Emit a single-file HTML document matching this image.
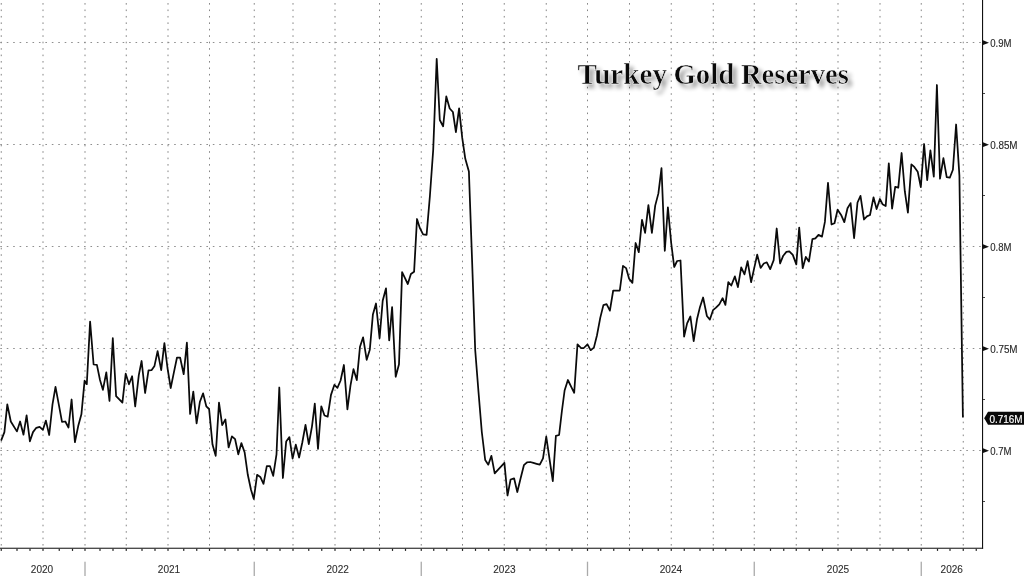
<!DOCTYPE html>
<html><head><meta charset="utf-8"><title>Turkey Gold Reserves</title>
<style>
html,body{margin:0;padding:0;background:#fff;}
body{width:1024px;height:576px;overflow:hidden;font-family:"Liberation Sans",sans-serif;}
svg{display:block;position:absolute;left:0;top:0;}
text{font-family:"Liberation Sans",sans-serif;}
.t{font-family:"Liberation Serif",serif;font-weight:bold;font-size:30.3px;}
</style></head><body>
<svg width="1024" height="576" viewBox="0 0 1024 576">
<defs><filter id="bl" x="-10%" y="-50%" width="120%" height="200%"><feGaussianBlur stdDeviation="2.2"/></filter></defs>
<rect x="0" y="0" width="1024" height="576" fill="#ffffff"/>

<g stroke="#858585" stroke-width="1" stroke-dasharray="1.6 4.84" fill="none">
<line x1="1.25" y1="3.06" x2="1.25" y2="547.5"/>
<line x1="43.00" y1="3.06" x2="43.00" y2="547.5"/>
<line x1="85.00" y1="3.06" x2="85.00" y2="547.5"/>
<line x1="126.25" y1="3.06" x2="126.25" y2="547.5"/>
<line x1="168.00" y1="3.06" x2="168.00" y2="547.5"/>
<line x1="209.50" y1="3.06" x2="209.50" y2="547.5"/>
<line x1="254.25" y1="3.06" x2="254.25" y2="547.5"/>
<line x1="293.00" y1="3.06" x2="293.00" y2="547.5"/>
<line x1="335.00" y1="3.06" x2="335.00" y2="547.5"/>
<line x1="379.50" y1="3.06" x2="379.50" y2="547.5"/>
<line x1="421.25" y1="3.06" x2="421.25" y2="547.5"/>
<line x1="462.50" y1="3.06" x2="462.50" y2="547.5"/>
<line x1="504.25" y1="3.06" x2="504.25" y2="547.5"/>
<line x1="546.25" y1="3.06" x2="546.25" y2="547.5"/>
<line x1="587.50" y1="3.06" x2="587.50" y2="547.5"/>
<line x1="629.50" y1="3.06" x2="629.50" y2="547.5"/>
<line x1="671.25" y1="3.06" x2="671.25" y2="547.5"/>
<line x1="713.25" y1="3.06" x2="713.25" y2="547.5"/>
<line x1="754.25" y1="3.06" x2="754.25" y2="547.5"/>
<line x1="796.25" y1="3.06" x2="796.25" y2="547.5"/>
<line x1="838.00" y1="3.06" x2="838.00" y2="547.5"/>
<line x1="880.00" y1="3.06" x2="880.00" y2="547.5"/>
<line x1="921.25" y1="3.06" x2="921.25" y2="547.5"/>
<line x1="963.25" y1="3.06" x2="963.25" y2="547.5"/>
<line x1="0.3" y1="42.50" x2="982" y2="42.50" stroke="#8e8e8e"/>
<line x1="0.3" y1="144.50" x2="982" y2="144.50" stroke="#8e8e8e"/>
<line x1="0.3" y1="246.50" x2="982" y2="246.50" stroke="#8e8e8e"/>
<line x1="0.3" y1="348.50" x2="982" y2="348.50" stroke="#8e8e8e"/>
<line x1="0.3" y1="450.50" x2="982" y2="450.50" stroke="#8e8e8e"/>
</g>
<g opacity="0.4" filter="url(#bl)">
<text class="t" x="581.20" y="87.5" textLength="89.6" lengthAdjust="spacingAndGlyphs" fill="#000">Turkey</text>
<text class="t" x="677.20" y="87.5" textLength="60.8" lengthAdjust="spacingAndGlyphs" fill="#000">Gold</text>
<text class="t" x="744.80" y="87.5" textLength="107.8" lengthAdjust="spacingAndGlyphs" fill="#000">Reserves</text>
</g>
<g opacity="0.999">
<text class="t" x="577.40" y="83.8" textLength="89.6" lengthAdjust="spacingAndGlyphs" fill="#0a0a0a" stroke="#fff" stroke-width="0.5">Turkey</text>
<text class="t" x="673.40" y="83.8" textLength="60.8" lengthAdjust="spacingAndGlyphs" fill="#0a0a0a" stroke="#fff" stroke-width="0.5">Gold</text>
<text class="t" x="741.00" y="83.8" textLength="107.8" lengthAdjust="spacingAndGlyphs" fill="#0a0a0a" stroke="#fff" stroke-width="0.5">Reserves</text>
</g>
<path d="M1.10 440.60 L4.40 432.10 L7.30 404.40 L10.80 421.50 L16.90 431.40 L20.10 421.50 L23.50 434.70 L26.60 415.30 L29.90 441.30 L33.00 432.10 L36.30 427.80 L39.60 426.80 L42.90 429.80 L45.90 420.60 L49.20 435.00 L52.50 404.40 L55.50 386.80 L59.00 405.70 L62.00 421.90 L65.30 421.50 L68.50 427.50 L71.60 399.50 L74.90 442.20 L78.20 426.10 L81.40 414.30 L84.60 380.70 L86.80 384.20 L90.10 321.60 L93.60 364.50 L96.90 364.80 L100.00 380.00 L102.90 389.80 L106.30 372.40 L109.50 401.00 L112.80 338.20 L116.10 396.10 L119.30 399.40 L122.40 402.60 L125.70 373.70 L129.00 384.30 L132.10 376.20 L135.20 406.50 L138.80 375.10 L141.60 361.00 L145.10 393.00 L148.50 370.30 L151.70 370.10 L154.50 365.90 L157.60 351.20 L161.20 370.10 L164.40 343.10 L167.50 368.00 L170.70 388.00 L173.90 372.30 L177.00 357.50 L180.10 357.50 L183.70 374.20 L186.90 342.70 L190.10 413.90 L193.30 391.60 L196.60 423.40 L199.90 401.70 L203.10 393.40 L206.30 406.30 L209.10 409.00 L212.50 444.60 L215.70 455.80 L219.00 402.60 L222.20 425.20 L225.40 419.40 L228.60 447.40 L231.90 436.40 L235.10 439.20 L238.30 454.30 L241.40 443.10 L244.60 452.20 L247.80 474.80 L251.00 489.80 L253.80 498.90 L257.10 474.80 L260.30 476.90 L263.50 483.80 L266.80 466.20 L270.00 466.20 L273.20 475.80 L276.50 454.30 L279.30 387.50 L282.90 478.00 L286.20 441.40 L289.40 437.10 L292.60 458.60 L295.80 444.60 L299.10 457.50 L302.30 442.50 L305.50 424.80 L308.80 444.20 L312.00 426.30 L314.80 403.70 L318.00 448.90 L321.30 406.30 L324.50 415.50 L327.70 416.60 L331.00 394.90 L334.40 384.80 L337.40 387.80 L340.60 380.50 L343.90 365.00 L347.40 409.40 L350.50 385.40 L353.50 369.20 L356.80 380.10 L360.00 346.70 L363.10 337.30 L366.70 359.80 L369.80 349.80 L372.90 314.40 L376.00 303.50 L379.60 338.30 L382.70 300.80 L386.00 288.30 L389.20 340.40 L392.10 307.10 L395.70 376.80 L399.00 364.30 L402.10 272.10 L405.00 278.20 L407.80 284.00 L410.90 274.00 L414.10 271.70 L417.00 219.00 L419.90 228.20 L423.10 234.30 L426.60 234.90 L429.90 196.00 L433.20 150.00 L436.70 58.90 L439.80 120.00 L443.10 126.30 L446.30 96.40 L449.70 108.50 L452.90 112.00 L455.90 132.20 L459.10 108.40 L462.20 137.70 L465.30 158.80 L468.90 171.50 L472.10 261.00 L475.20 350.00 L478.50 392.00 L481.80 432.00 L485.20 460.00 L488.30 464.70 L491.40 455.80 L494.70 473.30 L497.90 469.80 L501.20 466.30 L504.40 462.80 L507.50 495.50 L510.60 479.50 L514.10 478.30 L517.30 492.00 L520.50 478.80 L523.90 465.20 L527.00 462.30 L530.20 462.00 L533.40 462.90 L536.60 463.80 L539.80 464.70 L543.00 458.40 L546.25 436.60 L549.50 458.90 L552.80 481.10 L555.90 435.80 L559.10 435.00 L561.90 411.00 L564.60 390.50 L567.90 380.00 L571.00 386.40 L574.20 392.80 L577.50 344.30 L581.10 348.00 L583.80 348.00 L587.50 344.30 L590.60 350.20 L593.90 347.60 L597.00 335.20 L600.25 317.90 L603.40 305.10 L606.60 304.20 L609.90 310.60 L613.20 290.50 L616.50 290.50 L619.80 290.50 L623.00 265.90 L626.10 268.10 L629.10 278.70 L632.40 282.90 L635.60 243.00 L638.80 252.10 L642.00 219.80 L645.10 232.90 L648.40 205.20 L651.90 232.90 L655.20 205.60 L658.40 193.40 L661.50 168.20 L664.80 250.80 L667.90 207.40 L671.20 243.00 L674.20 267.00 L677.10 261.00 L680.50 260.50 L684.10 336.60 L687.10 323.40 L690.40 316.50 L693.70 341.20 L697.00 319.30 L700.00 306.90 L703.10 297.50 L706.90 316.00 L709.90 319.60 L713.00 310.20 L716.00 307.70 L719.30 304.40 L722.60 298.20 L725.40 304.90 L728.30 282.20 L731.30 285.50 L734.90 276.40 L737.90 287.10 L741.20 267.30 L744.50 274.40 L747.60 261.20 L751.10 282.20 L754.20 268.10 L757.20 254.70 L760.60 267.90 L763.80 263.50 L766.80 262.30 L770.20 269.10 L773.70 260.10 L776.70 228.50 L780.10 263.50 L783.25 255.70 L786.40 251.90 L789.30 251.40 L792.80 254.90 L796.30 264.40 L799.20 227.60 L802.70 268.20 L805.80 256.90 L808.90 261.50 L812.40 239.20 L815.40 238.40 L818.50 234.90 L822.00 236.60 L824.90 221.90 L828.00 182.80 L831.50 224.50 L834.50 223.30 L837.60 209.70 L841.10 214.90 L844.30 222.20 L847.50 208.30 L850.60 203.10 L854.10 238.10 L857.50 202.50 L860.50 195.90 L864.00 219.50 L866.90 216.40 L870.00 215.00 L873.50 197.30 L876.60 209.10 L879.90 199.00 L882.50 204.20 L885.70 206.00 L888.80 163.40 L892.10 208.60 L895.20 186.90 L898.30 187.70 L901.60 153.00 L904.80 191.20 L907.90 212.60 L911.40 164.30 L914.30 166.90 L917.70 171.70 L920.80 187.20 L924.10 144.00 L927.20 180.20 L930.40 150.40 L933.80 176.60 L936.90 85.00 L940.00 178.60 L943.40 158.20 L946.70 177.10 L949.80 177.70 L952.90 169.80 L956.10 124.50 L959.40 175.60 L962.90 417.50" fill="none" stroke="#0a0a0a" stroke-width="1.75" stroke-linejoin="round" stroke-linecap="butt"/>
<rect x="982" y="0" width="1.1" height="548.8" fill="#111"/>
<rect x="0" y="547.7" width="983.1" height="1.1" fill="#222"/>
<g fill="#222">
<rect x="0.65" y="548.7" width="1.2" height="2.2"/>
<rect x="16.40" y="548.7" width="1.2" height="2.2"/>
<rect x="29.40" y="548.7" width="1.2" height="2.2"/>
<rect x="42.40" y="548.7" width="1.2" height="2.2"/>
<rect x="58.65" y="548.7" width="1.2" height="2.2"/>
<rect x="71.90" y="548.7" width="1.2" height="2.2"/>
<rect x="84.40" y="548.7" width="1.2" height="2.2"/>
<rect x="99.40" y="548.7" width="1.2" height="2.2"/>
<rect x="112.40" y="548.7" width="1.2" height="2.2"/>
<rect x="125.65" y="548.7" width="1.2" height="2.2"/>
<rect x="141.40" y="548.7" width="1.2" height="2.2"/>
<rect x="154.40" y="548.7" width="1.2" height="2.2"/>
<rect x="167.40" y="548.7" width="1.2" height="2.2"/>
<rect x="183.15" y="548.7" width="1.2" height="2.2"/>
<rect x="196.15" y="548.7" width="1.2" height="2.2"/>
<rect x="208.90" y="548.7" width="1.2" height="2.2"/>
<rect x="224.40" y="548.7" width="1.2" height="2.2"/>
<rect x="237.40" y="548.7" width="1.2" height="2.2"/>
<rect x="253.65" y="548.7" width="1.2" height="2.2"/>
<rect x="266.40" y="548.7" width="1.2" height="2.2"/>
<rect x="279.40" y="548.7" width="1.2" height="2.2"/>
<rect x="292.40" y="548.7" width="1.2" height="2.2"/>
<rect x="308.15" y="548.7" width="1.2" height="2.2"/>
<rect x="321.15" y="548.7" width="1.2" height="2.2"/>
<rect x="334.40" y="548.7" width="1.2" height="2.2"/>
<rect x="349.90" y="548.7" width="1.2" height="2.2"/>
<rect x="363.15" y="548.7" width="1.2" height="2.2"/>
<rect x="378.90" y="548.7" width="1.2" height="2.2"/>
<rect x="391.90" y="548.7" width="1.2" height="2.2"/>
<rect x="404.90" y="548.7" width="1.2" height="2.2"/>
<rect x="420.65" y="548.7" width="1.2" height="2.2"/>
<rect x="433.15" y="548.7" width="1.2" height="2.2"/>
<rect x="446.15" y="548.7" width="1.2" height="2.2"/>
<rect x="461.90" y="548.7" width="1.2" height="2.2"/>
<rect x="474.90" y="548.7" width="1.2" height="2.2"/>
<rect x="488.15" y="548.7" width="1.2" height="2.2"/>
<rect x="503.65" y="548.7" width="1.2" height="2.2"/>
<rect x="516.40" y="548.7" width="1.2" height="2.2"/>
<rect x="529.40" y="548.7" width="1.2" height="2.2"/>
<rect x="545.65" y="548.7" width="1.2" height="2.2"/>
<rect x="558.65" y="548.7" width="1.2" height="2.2"/>
<rect x="571.40" y="548.7" width="1.2" height="2.2"/>
<rect x="586.90" y="548.7" width="1.2" height="2.2"/>
<rect x="600.15" y="548.7" width="1.2" height="2.2"/>
<rect x="613.15" y="548.7" width="1.2" height="2.2"/>
<rect x="628.90" y="548.7" width="1.2" height="2.2"/>
<rect x="641.90" y="548.7" width="1.2" height="2.2"/>
<rect x="657.65" y="548.7" width="1.2" height="2.2"/>
<rect x="670.65" y="548.7" width="1.2" height="2.2"/>
<rect x="683.65" y="548.7" width="1.2" height="2.2"/>
<rect x="699.40" y="548.7" width="1.2" height="2.2"/>
<rect x="712.65" y="548.7" width="1.2" height="2.2"/>
<rect x="725.15" y="548.7" width="1.2" height="2.2"/>
<rect x="740.65" y="548.7" width="1.2" height="2.2"/>
<rect x="753.65" y="548.7" width="1.2" height="2.2"/>
<rect x="769.90" y="548.7" width="1.2" height="2.2"/>
<rect x="783.15" y="548.7" width="1.2" height="2.2"/>
<rect x="795.65" y="548.7" width="1.2" height="2.2"/>
<rect x="808.65" y="548.7" width="1.2" height="2.2"/>
<rect x="821.90" y="548.7" width="1.2" height="2.2"/>
<rect x="837.40" y="548.7" width="1.2" height="2.2"/>
<rect x="850.65" y="548.7" width="1.2" height="2.2"/>
<rect x="866.40" y="548.7" width="1.2" height="2.2"/>
<rect x="879.40" y="548.7" width="1.2" height="2.2"/>
<rect x="892.40" y="548.7" width="1.2" height="2.2"/>
<rect x="907.65" y="548.7" width="1.2" height="2.2"/>
<rect x="920.65" y="548.7" width="1.2" height="2.2"/>
<rect x="936.90" y="548.7" width="1.2" height="2.2"/>
<rect x="949.40" y="548.7" width="1.2" height="2.2"/>
<rect x="962.65" y="548.7" width="1.2" height="2.2"/>
<rect x="975.65" y="548.7" width="1.2" height="2.2"/>
</g>
<g fill="#111">
<path d="M983 40.30 L989 42.65 L983 45.00 Z"/>
<path d="M983 142.30 L989 144.65 L983 147.00 Z"/>
<path d="M983 244.30 L989 246.65 L983 249.00 Z"/>
<path d="M983 346.30 L989 348.65 L983 351.00 Z"/>
<path d="M983 448.30 L989 450.65 L983 453.00 Z"/>
<rect x="983" y="93.00" width="2" height="1" fill="#444"/>
<rect x="983" y="195.00" width="2" height="1" fill="#444"/>
<rect x="983" y="297.00" width="2" height="1" fill="#444"/>
<rect x="983" y="399.00" width="2" height="1" fill="#444"/>
<rect x="983" y="501.00" width="2" height="1" fill="#444"/>
</g>
<g fill="#2a2a2a" stroke="#2a2a2a" stroke-width="0.15" font-size="11px" opacity="0.999">
<text x="990.2" y="46.95" textLength="21.3" lengthAdjust="spacingAndGlyphs">0.9M</text>
<text x="990.2" y="148.95" textLength="27.4" lengthAdjust="spacingAndGlyphs">0.85M</text>
<text x="990.2" y="250.95" textLength="21.3" lengthAdjust="spacingAndGlyphs">0.8M</text>
<text x="990.2" y="352.95" textLength="27.4" lengthAdjust="spacingAndGlyphs">0.75M</text>
<text x="990.2" y="454.95" textLength="21.3" lengthAdjust="spacingAndGlyphs">0.7M</text>
</g>
<path d="M984.2 418.3 L988 411.8 L1024 411.8 L1024 424.8 L988 424.8 Z" fill="#0a0a0a"/>
<g opacity="0.999"><text x="989.4" y="422.8" font-size="11.6px" fill="#fff" stroke="#fff" stroke-width="0.2" textLength="33.3" lengthAdjust="spacingAndGlyphs">0.716M</text></g>
<g fill="#aaa">
<rect x="84.35" y="561.7" width="1.3" height="14.3"/>
<rect x="253.60" y="561.7" width="1.3" height="14.3"/>
<rect x="420.60" y="561.7" width="1.3" height="14.3"/>
<rect x="586.85" y="561.7" width="1.3" height="14.3"/>
<rect x="753.60" y="561.7" width="1.3" height="14.3"/>
<rect x="920.60" y="561.7" width="1.3" height="14.3"/>
</g>
<g fill="#2e2e2e" stroke="#2e2e2e" stroke-width="0.12" font-size="11.6px" text-anchor="middle" opacity="0.999">
<text x="42.00" y="572.8" textLength="22.4" lengthAdjust="spacingAndGlyphs">2020</text>
<text x="169.00" y="572.8" textLength="22.4" lengthAdjust="spacingAndGlyphs">2021</text>
<text x="337.70" y="572.8" textLength="22.4" lengthAdjust="spacingAndGlyphs">2022</text>
<text x="504.40" y="572.8" textLength="22.4" lengthAdjust="spacingAndGlyphs">2023</text>
<text x="670.90" y="572.8" textLength="22.4" lengthAdjust="spacingAndGlyphs">2024</text>
<text x="838.00" y="572.8" textLength="22.4" lengthAdjust="spacingAndGlyphs">2025</text>
<text x="951.75" y="572.8" textLength="22.4" lengthAdjust="spacingAndGlyphs">2026</text>
</g>
</svg></body></html>
